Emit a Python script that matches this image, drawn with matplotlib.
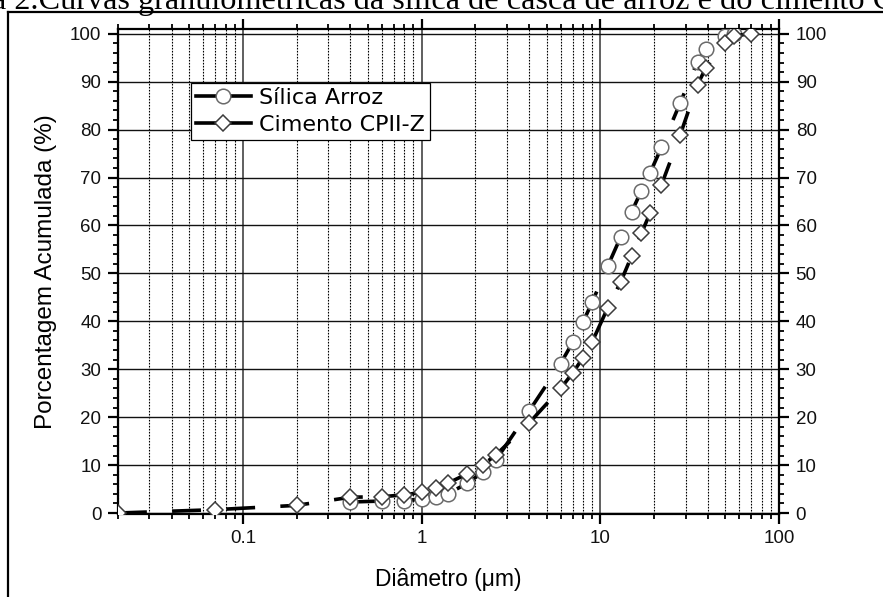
import matplotlib
matplotlib.use("Agg")
import matplotlib.pyplot as plt
from matplotlib.lines import Line2D
from matplotlib.ticker import FixedLocator, NullFormatter, MultipleLocator, LogLocator

# ---- data ----
silica_x = [0.4, 0.6, 0.8, 1.0, 1.2, 1.4, 1.8, 2.2, 2.6, 4, 6, 7, 8, 9, 11, 13, 15, 17, 19, 22, 28, 35, 39, 50, 56]
silica_y = [2.3, 2.5, 2.6, 2.9, 3.3, 4.0, 6.2, 8.5, 11.0, 21.3, 31.2, 35.6, 39.8, 44.0, 51.5, 57.6, 62.9, 67.3, 71.0, 76.3, 85.6, 94.2, 96.9, 99.6, 100]

cimento_x = [0.02, 0.07, 0.2, 0.4, 0.6, 0.8, 1.0, 1.2, 1.4, 1.8, 2.2, 2.6, 4, 6, 7, 8, 9, 11, 13, 15, 17, 19, 22, 28, 35, 39, 50, 56, 70]
cimento_y = [0.0, 0.7, 1.6, 3.3, 3.4, 3.8, 4.3, 5.3, 6.2, 8.2, 10.0, 12.1, 18.8, 26.0, 29.2, 32.4, 35.7, 42.8, 48.2, 53.7, 58.4, 62.6, 68.5, 78.9, 89.4, 92.9, 98.0, 99.6, 100]

series_labels = ["Sílica Arroz", "Cimento CPII-Z"]
x_major = [0.1, 1, 10, 100]
x_major_labels = ["0.1", "1", "10", "100"]
y_major = list(range(0, 101, 10))

caption = "a 2.Curvas granulométricas da sílica de casca de arroz e do cimento C"

W, H = 883, 597
fig = plt.figure(figsize=(W / 100, H / 100), dpi=100)
ax = fig.add_axes([118 / W, 1 - 513.5 / H, (779 - 118) / W, (513.5 - 29) / H])

dash = (0, (8, 7))
ax.plot(silica_x, silica_y, color="k", lw=2.6, ls=dash, marker="o", ms=10.5,
        mfc="white", mec="#6a6a6a", mew=1.1, zorder=3)
ax.plot(cimento_x, cimento_y, color="k", lw=2.6, ls=dash, marker="D", ms=8.3,
        mfc="white", mec="#3c3c3c", mew=1.1, zorder=4)

ax.set_xscale("log")
ax.set_xlim(0.02, 100)
ax.set_ylim(-0.1, 101)

ax.xaxis.set_major_locator(FixedLocator(x_major))
ax.set_xticklabels(x_major_labels)
ax.xaxis.set_minor_locator(LogLocator(base=10, subs=range(2, 10)))
ax.xaxis.set_minor_formatter(NullFormatter())
ax.yaxis.set_major_locator(FixedLocator(y_major))
ax.yaxis.set_minor_locator(MultipleLocator(2))

ax.grid(which="major", axis="y", color="#111111", lw=1.0, ls="-")
ax.grid(which="major", axis="x", color="#444444", lw=1.2, ls="-")
ax.grid(which="minor", axis="x", color="k", lw=0.8, ls=(0, (1.5, 1.2)))
ax.set_axisbelow(True)

for s in ax.spines.values():
    s.set_linewidth(1.6)
    s.set_color("k")

ax.tick_params(axis="both", which="major", direction="out", length=7, width=1.6,
               labelsize=13.5, labelcolor="#111111", pad=5)
ax.tick_params(axis="both", which="minor", direction="out", length=3.5, width=1.3)
ax.tick_params(axis="y", which="both", left=True, right=True, labelleft=True, labelright=True)
ax.tick_params(axis="x", which="both", bottom=True, top=True, labelbottom=True, labeltop=False)
for lab in ax.get_xticklabels() + ax.get_yticklabels():
    lab.set_family("Liberation Sans")

ax.set_xlabel("Diâmetro (μm)", fontsize=16.5, family="Liberation Sans", labelpad=15)
ax.set_ylabel("Porcentagem Acumulada (%)", fontsize=17.5, family="Liberation Sans", labelpad=9)

handles = [
    Line2D([], [], color="k", lw=2.6, marker="o", ms=10.5, mfc="white", mec="#6a6a6a", mew=1.1),
    Line2D([], [], color="k", lw=2.6, marker="D", ms=8.3, mfc="white", mec="#3c3c3c", mew=1.1),
]
leg = ax.legend(handles, series_labels, loc="upper left", bbox_to_anchor=(0.110, 0.889),
                borderaxespad=0, prop={"family": "DejaVu Sans", "size": 16},
                handlelength=2.5, handletextpad=0.35, labelspacing=0.33, borderpad=0.22,
                fancybox=False, framealpha=1, edgecolor="k")
leg.get_frame().set_linewidth(0.9)

# outer frame (partially visible)
fig.add_artist(Line2D([8 / W, 8 / W], [0, 1 - 12 / H], color="k", lw=1.6, transform=fig.transFigure))
fig.add_artist(Line2D([8 / W, 1], [1 - 12 / H, 1 - 12 / H], color="k", lw=1.6, transform=fig.transFigure))

fig.text(-8 / W, 1 - 9 / H, caption, family="Liberation Serif", fontsize=23.2,
         ha="left", va="baseline", color="k")

fig.savefig("out.png", dpi=100)
